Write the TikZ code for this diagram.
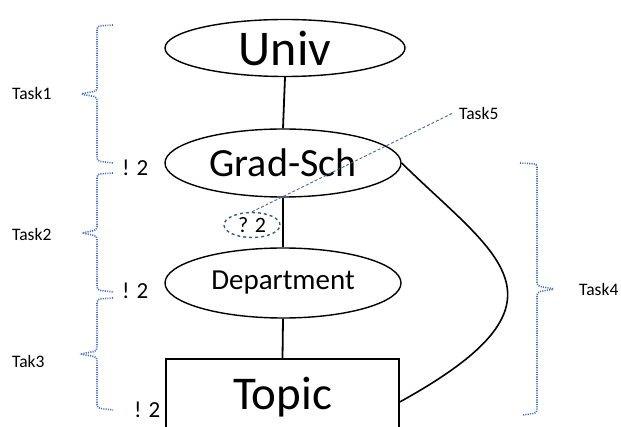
\documentclass[tikz,border=0pt]{standalone}
\usepackage{fontspec}
\setmainfont{Carlito}
\usetikzlibrary{shapes.geometric}
\definecolor{bracecol}{RGB}{68,114,196}
\definecolor{calloutcol}{RGB}{65,105,160}
\definecolor{qcol}{RGB}{56,93,138}
\tikzset{
  entity/.style={ellipse, draw=black, line width=1.4pt, inner sep=0pt},
  link/.style={draw=black, line width=1.8pt},
  brace/.style={draw=bracecol, line width=1.6pt, dash pattern=on 1.1pt off 1.2pt, rounded corners=3pt},
  tasklbl/.style={font=\fontsize{17.5}{20}\selectfont, anchor=west, inner sep=0pt},
  cnt/.style={font=\fontsize{23}{26}\selectfont, anchor=west, inner sep=0pt},
}
\begin{document}
\begin{tikzpicture}[x=1pt, y=-1pt]
\useasboundingbox (0,0) rectangle (621,427);
\clip (0,0) rectangle (621,427);
\fill[white] (0,0) rectangle (621,427);

% entities
\node[entity, minimum width=240, minimum height=57] (univ) at (285,48)
  {\fontsize{50}{56}\selectfont Univ};
\node[entity, minimum width=236, minimum height=68] (grad) at (283,163)
  {\fontsize{40}{46}\selectfont Grad-Sch};
\node[entity, minimum width=236, minimum height=70] (dept) at (283,283)
  {\fontsize{29}{34}\selectfont Department};
\node[draw=black, line width=1.4pt, minimum width=233, minimum height=76, inner sep=0pt] (topic) at (282.5,397)
  {\fontsize{47}{52}\selectfont Topic};

% hierarchy links
\draw[link] (univ.south) -- (grad.north);
\draw[link] (grad.south) -- (dept.north);
\draw[link] (dept.south) -- (topic.north);
\draw[black, line width=1.6pt] (grad.east) .. controls (495,255) and (585,300) .. ([yshift=-5]topic.east);

% cardinality marks
\node[ellipse, draw=qcol, line width=1.4pt, dashed, minimum width=56, minimum height=25, inner sep=0pt,
      font=\fontsize{22}{26}\selectfont] (q2) at (252,225) {? 2};
\node[cnt] (c1) at (122,168) {! 2};
\node[cnt] (c2) at (122,291) {! 2};
\node[cnt] (c3) at (134,410) {! 2};

% task labels
\node[tasklbl] (t1) at (12,93) {Task1};
\node[tasklbl] (t2) at (12,234) {Task2};
\node[tasklbl] (t3) at (12,361) {Tak3};
\node[tasklbl] (t4) at (579,289) {Task4};
\node[tasklbl] (t5) at (459,113) {Task5};

% callout from Task5
\draw[calloutcol, line width=0.9pt, dash pattern=on 3pt off 2pt] (q2.north) -- ([xshift=-6]t5.west);

% braces on the left
\draw[brace] (113,25) -- (97,26) -- (97,91) -- (80,94) -- (97,97) -- (97,161) -- (113,163);
\draw[brace] (113,173) -- (97,174) -- (97,230) -- (82,233) -- (97,236) -- (97,290) -- (113,292);
\draw[brace] (113,298) -- (97,299) -- (97,351) -- (80,354) -- (97,357) -- (97,408) -- (113,410);

% brace on the right
\draw[brace] (520,163) -- (537,164) -- (537,286) -- (555,289) -- (537,292) -- (537,413) -- (522,415);
\end{tikzpicture}
\end{document}
